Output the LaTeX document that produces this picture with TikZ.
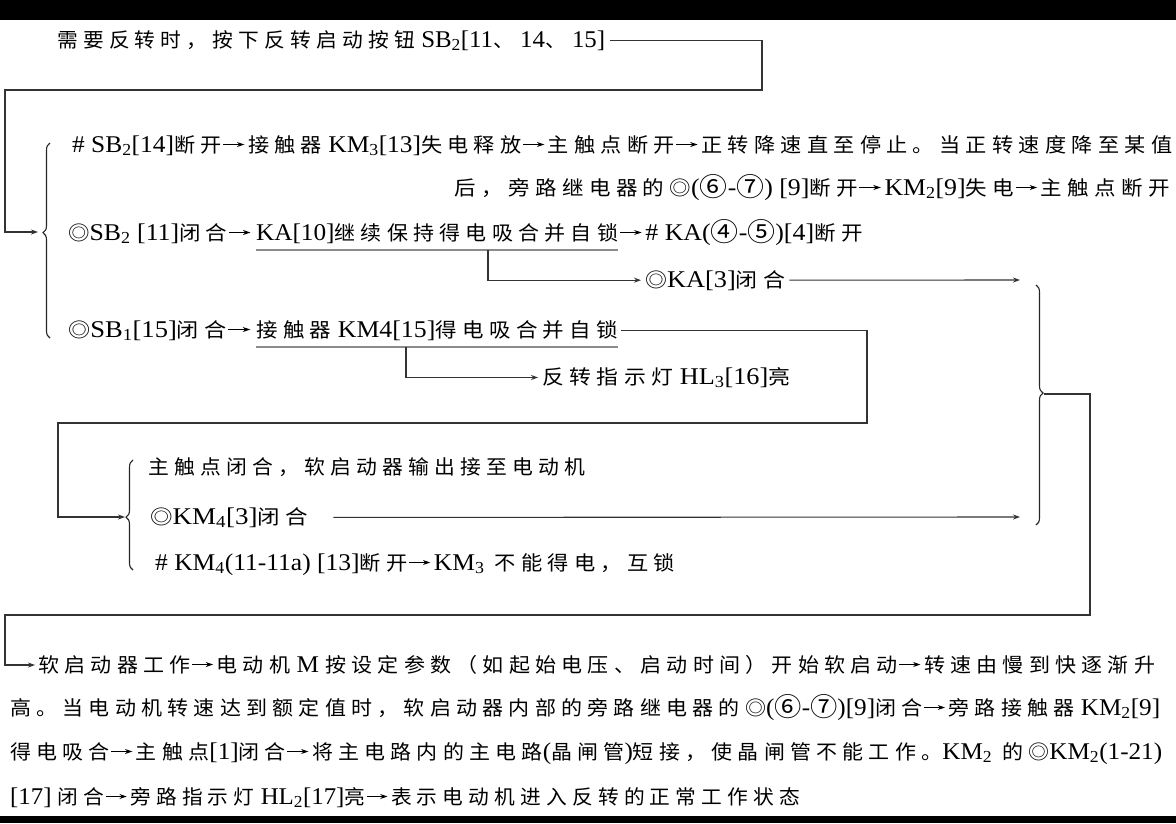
\documentclass[tikz,border=0pt]{standalone}
\usepackage{graphicx}
\usepackage{fontspec}
\setmainfont{Noto Sans CJK SC}[LetterSpace=25]
\newfontfamily\latf{Liberation Serif}
\usetikzlibrary{arrows.meta,decorations.pathreplacing}
\newcommand\lat[1]{{\latf\fontsize{24}{26}\selectfont #1}}
\newcommand\sbx[1]{\textsubscript{#1}}
\newcommand\cn[1]{\raisebox{-1.5pt}{\scalebox{1.3}{#1}}}
\newcommand\rarr{\hspace{1pt}\tikz[baseline=-7.5pt]\draw[line width=0.9pt,-{Stealth[length=7pt,width=5pt]}](0pt,0pt)--(20pt,0pt);\hspace{3pt}}
\newsavebox\fitbox
\newcommand\fit[2]{\sbox\fitbox{#2}\pgfmathsetmacro\fitr{#1/\the\wd\fitbox}\scalebox{\fitr}[1]{\usebox\fitbox}}
\begin{document}
\begin{tikzpicture}[x=1pt,y=-1pt,
  txt/.style={anchor=base west,inner sep=0pt,font=\fontsize{20}{24}\selectfont},
  conn/.style={draw=black!80,line width=1.1pt},
  arr/.style={conn,-{Stealth[length=7pt,width=5pt]}},
  ul/.style={draw=black!45,line width=1.6pt},
  brc/.style={draw=black!85,line width=1.1pt,decorate,decoration={brace,amplitude=7pt,aspect=#1}},
  brc/.default=0.5]
\useasboundingbox (0,0) rectangle (1176,823);
\fill[black] (0,0) rectangle (1176,20);
\fill[black] (0,816) rectangle (1176,823);

% header
\node[txt] (h) at (57,47) {\fit{548}{需要反转时，按下反转启动按钮\lat{ SB\sbx{2}[11}、\lat{ 14}、\lat{ 15]}}};
\coordinate (p1) at (762,90);
\coordinate (p2) at (5,90);
\coordinate (b1) at (38,232);
\draw[arr] ([xshift=5pt]h.east) -| (p1) -- (p2) |- (b1);

% brace 1
\draw[brc=0.54] (50,338) -- (50,143);

% row A
\node[txt] (a1) at (72,152) {\fit{1100}{\lat{\# SB\sbx{2}[14]}断开\rarr 接触器\lat{ KM\sbx{3}[13]}失电释放\rarr 主触点断开\rarr 正转降速直至停止。当正转速度降至某值}};
\node[txt,anchor=base east] (a2) at (1170,195) {\fit{715}{后，旁路继电器的◎\lat{(}\cn{⑥}\lat{-}\cn{⑦}\lat{) [9]}断开\rarr\lat{KM\sbx{2}[9]}失电\rarr 主触点断开}};

% row B
\node[txt] (bt) at (68,240) {\fit{186}{◎\lat{SB\sbx{2} [11]}闭合\rarr}};
\node[txt] (ka10) at (256,240) {\fit{362}{\lat{KA[10]}继续保持得电吸合并自锁}};
\node[txt] (b3) at (ka10.base east) {\fit{244}{\rarr\lat{\# KA(}\cn{④}\lat{-}\cn{⑤}\lat{)[4]}断开}};
\draw[ul] ([yshift=-10pt]ka10.base west) -- ([yshift=-10pt]ka10.base east);
\coordinate (u1) at (488,250);
\node[txt] (ka3) at (645,287) {\fit{140}{◎\lat{KA[3]}闭合}};
\draw[arr] (u1) |- ([xshift=-4pt]ka3.west);
\coordinate (r1) at (1020,280);
\draw[arr] ([xshift=4pt]ka3.east) -- (r1);

% row C
\node[txt] (ct) at (68,337) {\fit{186}{◎\lat{SB\sbx{1}[15]}闭合\rarr}};
\node[txt] (km4) at (256,337) {\fit{362}{接触器\lat{ KM4[15]}得电吸合并自锁}};
\draw[ul] ([yshift=-10pt]km4.base west) -- ([yshift=-10pt]km4.base east);
\coordinate (q1) at (867,423);
\coordinate (q2) at (58,423);
\coordinate (b2) at (125,517);
\draw[arr] ([xshift=3pt]km4.east) -| (q1) -- (q2) |- (b2);
\coordinate (u2) at (406,347);
\node[txt] (hl3) at (542,384) {\fit{248}{反转指示灯\lat{ HL\sbx{3}[16]}亮}};
\draw[arr] (u2) |- ([xshift=-4pt]hl3.west);

% brace 2
\draw[brc=0.48] (133,570) -- (133,460);
\node[txt] (d) at (148,474) {\fit{437}{主触点闭合，软启动器输出接至电动机}};
\node[txt] (e) at (150,524) {\fit{158}{◎\lat{KM\sbx{4}[3]}闭合}};
\coordinate (r2) at (1020,517);
\draw[arr] ([xshift=25pt]e.east) -- (r2);
\node[txt] (f) at (155,570) {\fit{520}{\lat{\# KM\sbx{4}(11-11a) [13]}断开\rarr\lat{KM\sbx{3}} 不能得电，互锁}};

% right brace
\draw[brc=0.45] (1036,285) -- (1036,525);
\coordinate (rb) at (1044,394);
\coordinate (s1) at (1090,615);
\coordinate (s2) at (5,615);
\coordinate (pa) at (35,665);
\draw[arr] (rb) -| (s1) -- (s2) |- (pa);

% paragraph
\node[txt] (t1) at (38,672) {\fit{1117}{软启动器工作\rarr 电动机\lat{ M }按设定参数（如起始电压、启动时间）开始软启动\rarr 转速由慢到快逐渐升}};
\node[txt] (t2) at (10,715) {\fit{1150}{高。当电动机转速达到额定值时，软启动器内部的旁路继电器的◎\lat{(}\cn{⑥}\lat{-}\cn{⑦}\lat{)[9]}闭合\rarr 旁路接触器\lat{ KM\sbx{2}[9]}}};
\node[txt] (t3) at (10,759) {\fit{1152}{得电吸合\rarr 主触点\lat{[1]}闭合\rarr 将主电路内的主电路\lat{(}晶闸管\lat{)}短接，使晶闸管不能工作。\lat{KM\sbx{2}} 的◎\lat{KM\sbx{2}(1-21)}}};
\node[txt] (t4) at (10,804) {\fit{790}{\lat{[17] }闭合\rarr 旁路指示灯\lat{ HL\sbx{2}[17]}亮\rarr 表示电动机进入反转的正常工作状态}};
\end{tikzpicture}
\end{document}
